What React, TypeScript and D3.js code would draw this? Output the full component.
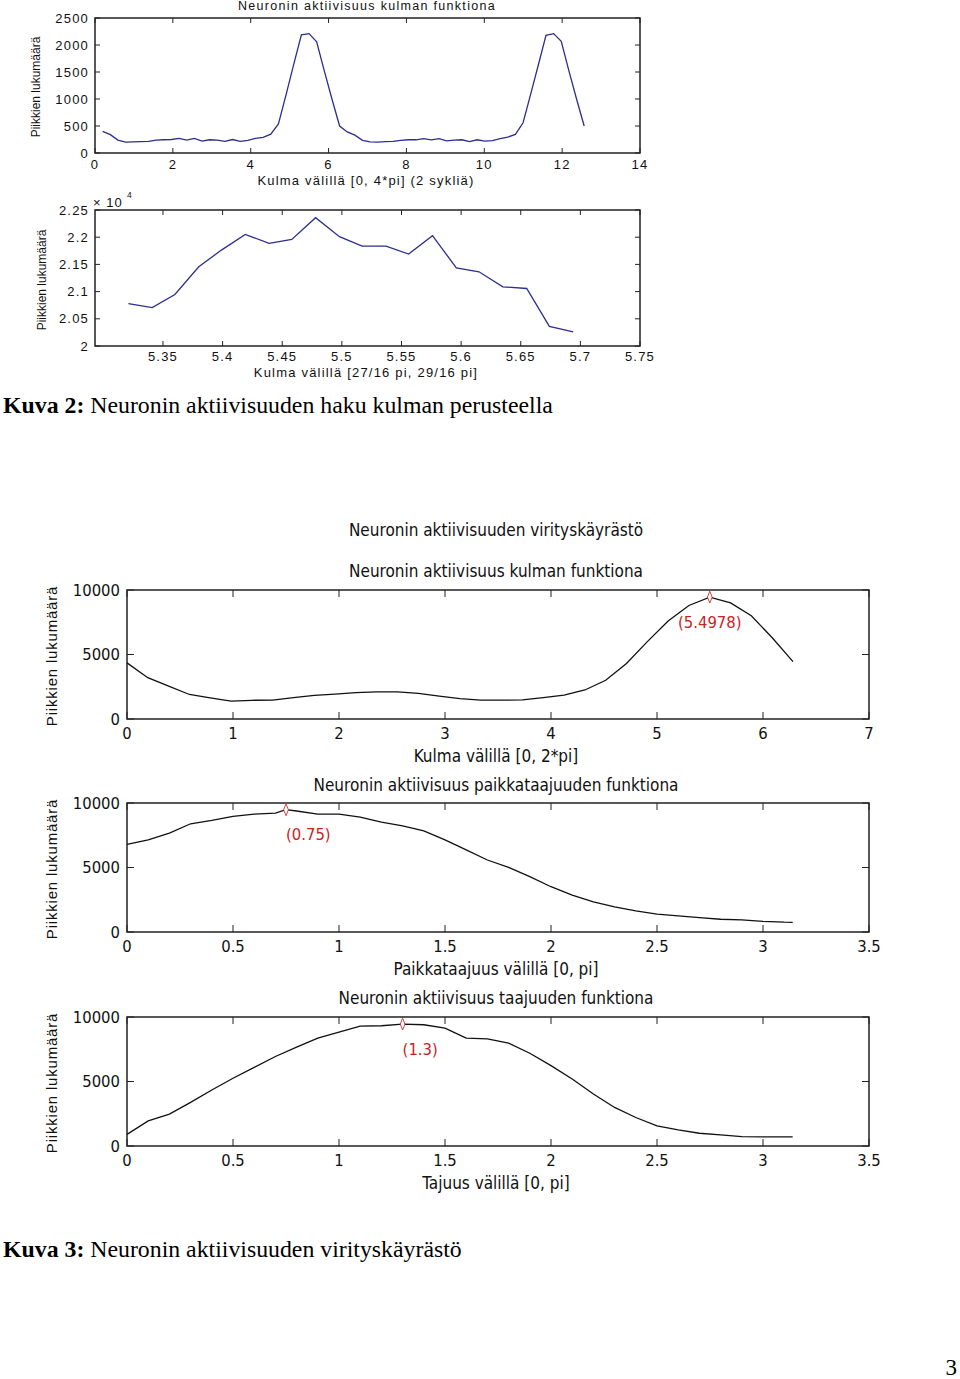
import { useEffect, useRef } from "react"
import * as d3 from "d3"

// Kuva 2, upper panel: activity vs angle over two cycles
const cycleAngles = [
  0.196, 0.393, 0.589, 0.785, 0.982, 1.178, 1.374, 1.571, 1.767, 1.963, 2.16, 2.356, 2.553, 2.749, 2.945, 3.142,
  3.338, 3.534, 3.731, 3.927, 4.123, 4.32, 4.516, 4.712, 4.909, 5.105, 5.301, 5.498, 5.694, 5.89, 6.087, 6.283,
  6.48, 6.676, 6.872, 7.069, 7.265, 7.461, 7.658, 7.854, 8.05, 8.247, 8.443, 8.639, 8.836, 9.032, 9.228, 9.425,
  9.621, 9.817, 10.014, 10.21, 10.407, 10.603, 10.799, 10.996, 11.192, 11.388, 11.585, 11.781, 11.977, 12.174,
  12.37, 12.566,
]
const cycleSpikes = [
  400, 340, 240, 200, 205, 210, 215, 240, 245, 250, 270, 240, 270, 220, 245, 240,
  215, 250, 215, 235, 270, 290, 350, 540, 1080, 1640, 2190, 2210, 2060, 1520, 1000, 500,
  390, 330, 235, 205, 200, 210, 215, 235, 245, 245, 265, 245, 265, 225, 240, 245,
  210, 245, 220, 230, 265, 295, 345, 560, 1090, 1630, 2180, 2210, 2070, 1520, 1000, 500,
]
const cycleXTicks = [0, 2, 4, 6, 8, 10, 12, 14]
const cycleYTicks = [0, 500, 1000, 1500, 2000, 2500]

// Kuva 2, lower panel: fine search around the peak
const fineAngles = [
  5.321, 5.341, 5.36, 5.38, 5.399, 5.419, 5.439, 5.458, 5.478, 5.498,
  5.517, 5.537, 5.556, 5.576, 5.596, 5.615, 5.635, 5.655, 5.674, 5.694,
]
const fineSpikes = [
  20780, 20706, 20946, 21456, 21763, 22052, 21886, 21960, 22359, 22009,
  21837, 21837, 21689, 22027, 21437, 21364, 21087, 21057, 20362, 20258,
]
const fineXTicks = [5.35, 5.4, 5.45, 5.5, 5.55, 5.6, 5.65, 5.7, 5.75]
const fineYTicks = [20000, 20500, 21000, 21500, 22000, 22500]

// Kuva 3: tuning curves
const angle = [
  0, 0.196, 0.393, 0.589, 0.785, 0.982, 1.178, 1.374, 1.571, 1.767, 1.963, 2.16, 2.356, 2.553, 2.749, 2.945,
  3.142, 3.338, 3.534, 3.731, 3.927, 4.123, 4.32, 4.516, 4.712, 4.909, 5.105, 5.301, 5.498, 5.694, 5.89, 6.087, 6.283,
]
const angleSpikes = [
  4350, 3200, 2550, 1900, 1640, 1380, 1450, 1470, 1660, 1830, 1930, 2050, 2100, 2110, 1980, 1780,
  1580, 1470, 1460, 1480, 1650, 1850, 2250, 3000, 4300, 6000, 7600, 8800, 9450, 9000, 8000, 6300, 4450,
]
const angleXTicks = [0, 1, 2, 3, 4, 5, 6, 7]

const spatialFreq = [
  0, 0.1, 0.2, 0.3, 0.4, 0.5, 0.6, 0.7, 0.75, 0.8, 0.9, 1.0, 1.1, 1.2, 1.3, 1.4, 1.5, 1.6, 1.7,
  1.8, 1.9, 2.0, 2.1, 2.2, 2.3, 2.4, 2.5, 2.6, 2.7, 2.8, 2.9, 3.0, 3.1, 3.14,
]
const spatialSpikes = [
  6800, 7140, 7660, 8390, 8650, 8960, 9140, 9220, 9480, 9380, 9140, 9140, 8910, 8520, 8230, 7840, 7140, 6360, 5580,
  5010, 4290, 3510, 2860, 2340, 1950, 1640, 1380, 1250, 1120, 990, 940, 830, 760, 750,
]

const temporalFreq = [
  0, 0.1, 0.2, 0.3, 0.4, 0.5, 0.6, 0.7, 0.8, 0.9, 1.0, 1.1, 1.2, 1.3, 1.4, 1.5, 1.6, 1.7,
  1.8, 1.9, 2.0, 2.1, 2.2, 2.3, 2.4, 2.5, 2.6, 2.7, 2.8, 2.9, 3.0, 3.1, 3.14,
]
const temporalSpikes = [
  900, 1950, 2470, 3380, 4340, 5250, 6100, 6940, 7660, 8360, 8830, 9300, 9320, 9450, 9400, 9140, 8360, 8310,
  7970, 7190, 6230, 5190, 4030, 2990, 2210, 1560, 1250, 990, 860, 730, 700, 700, 700,
]
const freqXTicks = [0, 0.5, 1, 1.5, 2, 2.5, 3, 3.5]
const countYTicks = [0, 5000, 10000]

const peakAngle = 5.4978
const peakSpatial = 0.75
const peakTemporal = 1.3

const SANS = "'Liberation Sans', Arial, sans-serif"
const NARROW = "'Liberation Sans Narrow', 'DejaVu Sans Condensed', 'Liberation Sans', sans-serif"
const SERIF = "'Liberation Serif', 'Times New Roman', serif"

interface PanelOpts {
  left: number
  right: number
  top: number
  bottom: number
  xDomain: [number, number]
  yDomain: [number, number]
  xTicks: number[]
  yTicks: number[]
  xs: number[]
  ys: number[]
  lineColor: string
  font: string
  fontSize: number
  yFormat: (d: number) => string
  xFormat: (d: number) => string
  xLabelGap: number
  yLabelGap: number
  tickLen: number
  letterSpacing: number
}

function drawPanel(svg: d3.Selection<SVGSVGElement, unknown, null, undefined>, o: PanelOpts) {
  const x = d3.scaleLinear().domain(o.xDomain).range([o.left, o.right])
  const y = d3.scaleLinear().domain(o.yDomain).range([o.bottom, o.top])
  const g = svg.append("g")

  // ticks inside on all four sides (matlab box)
  o.xTicks.forEach((t) => {
    const px = x(t)
    g.append("line").attr("x1", px).attr("x2", px).attr("y1", o.bottom).attr("y2", o.bottom - o.tickLen).attr("stroke", "#222")
    g.append("line").attr("x1", px).attr("x2", px).attr("y1", o.top).attr("y2", o.top + o.tickLen).attr("stroke", "#222")
    g.append("text")
      .attr("x", px)
      .attr("y", o.bottom + o.xLabelGap)
      .attr("text-anchor", "middle")
      .attr("dy", "0.35em")
      .attr("font-family", o.font)
      .attr("font-size", o.fontSize)
      .attr("letter-spacing", o.letterSpacing)
      .attr("fill", "#111")
      .text(o.xFormat(t))
  })
  o.yTicks.forEach((t) => {
    const py = y(t)
    g.append("line").attr("x1", o.left).attr("x2", o.left + o.tickLen).attr("y1", py).attr("y2", py).attr("stroke", "#222")
    g.append("line").attr("x1", o.right).attr("x2", o.right - o.tickLen).attr("y1", py).attr("y2", py).attr("stroke", "#222")
    g.append("text")
      .attr("x", o.left - o.yLabelGap)
      .attr("y", py)
      .attr("text-anchor", "end")
      .attr("dy", "0.35em")
      .attr("font-family", o.font)
      .attr("font-size", o.fontSize)
      .attr("letter-spacing", o.letterSpacing)
      .attr("fill", "#111")
      .text(o.yFormat(t))
  })

  g.append("rect")
    .attr("x", o.left)
    .attr("y", o.top)
    .attr("width", o.right - o.left)
    .attr("height", o.bottom - o.top)
    .attr("fill", "none")
    .attr("stroke", "#222")
    .attr("stroke-width", 1.5)

  const line = d3
    .line<number>()
    .x((d, i) => x(o.xs[i]))
    .y((d) => y(d))

  g.append("path")
    .datum(o.ys)
    .attr("fill", "none")
    .attr("stroke", o.lineColor)
    .attr("stroke-width", 1.3)
    .attr("d", line)

  return { x, y, g }
}

function addText(
  svg: d3.Selection<SVGSVGElement, unknown, null, undefined>,
  txt: string,
  px: number,
  py: number,
  font: string,
  size: number,
  opts: { anchor?: string; rotate?: boolean; fill?: string; spacing?: number } = {}
) {
  const t = svg
    .append("text")
    .attr("x", px)
    .attr("y", py)
    .attr("dy", "0.35em")
    .attr("text-anchor", opts.anchor || "middle")
    .attr("font-family", font)
    .attr("font-size", size)
    .attr("letter-spacing", opts.spacing || 0)
    .attr("fill", opts.fill || "#111")
    .text(txt)
  if (opts.rotate) t.attr("transform", `rotate(-90,${px},${py})`)
  return t
}

function markPeak(
  panel: { x: d3.ScaleLinear<number, number>; y: d3.ScaleLinear<number, number>; g: d3.Selection<SVGGElement, unknown, null, undefined> },
  xs: number[],
  ys: number[],
  peak: number,
  anchor: string
) {
  const idx = xs.findIndex((v) => Math.abs(v - peak) < 0.01)
  const px = panel.x(xs[idx])
  const py = panel.y(ys[idx])
  panel.g
    .append("path")
    .attr("d", d3.symbol(d3.symbolDiamond, 40)())
    .attr("transform", `translate(${px},${py}) scale(0.7,1)`)
    .attr("fill", "white")
    .attr("stroke", "#cc2222")
    .attr("stroke-width", 1)
  panel.g
    .append("text")
    .attr("x", px)
    .attr("y", py + 25)
    .attr("dy", "0.35em")
    .attr("text-anchor", anchor)
    .attr("font-family", NARROW)
    .attr("font-size", 16.5)
    .attr("fill", "#cc2222")
    .text(`(${peak})`)
}

export default function App() {
  const svgRef = useRef<SVGSVGElement>(null)

  useEffect(() => {
    if (!svgRef.current) return
    const svg = d3.select(svgRef.current)
    svg.selectAll("*").remove()

    const topBase = {
      left: 95,
      right: 640,
      lineColor: "#2e2e8e",
      font: SANS,
      fontSize: 13,
      xLabelGap: 11,
      yLabelGap: 6,
      tickLen: 5,
      letterSpacing: 1.2,
    }

    // --- Kuva 2 ---
    drawPanel(svg, {
      ...topBase,
      top: 18,
      bottom: 153,
      xDomain: [0, 14],
      yDomain: [0, 2500],
      xTicks: cycleXTicks,
      yTicks: cycleYTicks,
      xs: cycleAngles,
      ys: cycleSpikes,
      yFormat: (d) => String(d),
      xFormat: (d) => String(d),
    })
    addText(svg, "Neuronin aktiivisuus kulman funktiona", 367, 6, SANS, 12.5, { spacing: 1.3 })
    addText(svg, "Kulma välillä [0, 4*pi] (2 sykliä)", 366, 180, SANS, 13, { spacing: 1.2 })
    addText(svg, "Piikkien lukumäärä", 36, 87, SANS, 12, { rotate: true })

    drawPanel(svg, {
      ...topBase,
      top: 210,
      bottom: 346,
      xDomain: [5.293, 5.75],
      yDomain: [20000, 22500],
      xTicks: fineXTicks,
      yTicks: fineYTicks,
      xs: fineAngles,
      ys: fineSpikes,
      yFormat: (d) => String(+(d / 10000).toFixed(2)),
      xFormat: (d) => String(d),
      xLabelGap: 10,
    })
    addText(svg, "× 10", 93, 202, SANS, 13, { anchor: "start", spacing: 1 })
    addText(svg, "4", 127, 195, SANS, 8.5, { anchor: "start" })
    addText(svg, "Kulma välillä [27/16 pi, 29/16 pi]", 366, 372, SANS, 13, { spacing: 1.2 })
    addText(svg, "Piikkien lukumäärä", 42, 280, SANS, 12, { rotate: true })

    const caption2 = svg
      .append("text")
      .attr("x", 3)
      .attr("y", 413)
      .attr("font-family", SERIF)
      .attr("font-size", 23.8)
      .attr("fill", "#000")
    caption2.append("tspan").attr("font-weight", "bold").text("Kuva 2:")
    caption2.append("tspan").text(" Neuronin aktiivisuuden haku kulman perusteella")

    // --- Kuva 3 ---
    const botBase = {
      left: 127,
      right: 869,
      lineColor: "#111",
      font: NARROW,
      fontSize: 16.5,
      xLabelGap: 14,
      yLabelGap: 7,
      tickLen: 7,
      letterSpacing: 0,
      yDomain: [0, 10000] as [number, number],
      yTicks: countYTicks,
      yFormat: (d: number) => String(d),
      xFormat: (d: number) => String(d),
    }

    addText(svg, "Neuronin aktiivisuuden virityskäyrästö", 496, 530, NARROW, 17)

    const pA = drawPanel(svg, {
      ...botBase,
      top: 590,
      bottom: 719,
      xDomain: [0, 7],
      xTicks: angleXTicks,
      xs: angle,
      ys: angleSpikes,
    })
    markPeak(pA, angle, angleSpikes, peakAngle, "middle")
    addText(svg, "Neuronin aktiivisuus kulman funktiona", 496, 571, NARROW, 17)
    addText(svg, "Kulma välillä [0, 2*pi]", 496, 756, NARROW, 17)
    addText(svg, "Piikkien lukumäärä", 52, 656, SANS, 15, { rotate: true, spacing: 0.8 })

    const pB = drawPanel(svg, {
      ...botBase,
      top: 803,
      bottom: 932,
      xDomain: [0, 3.5],
      xTicks: freqXTicks,
      xs: spatialFreq,
      ys: spatialSpikes,
    })
    markPeak(pB, spatialFreq, spatialSpikes, peakSpatial, "start")
    addText(svg, "Neuronin aktiivisuus paikkataajuuden funktiona", 496, 785, NARROW, 17)
    addText(svg, "Paikkataajuus välillä [0, pi]", 496, 969, NARROW, 17)
    addText(svg, "Piikkien lukumäärä", 52, 869, SANS, 15, { rotate: true, spacing: 0.8 })

    const pC = drawPanel(svg, {
      ...botBase,
      top: 1017,
      bottom: 1146,
      xDomain: [0, 3.5],
      xTicks: freqXTicks,
      xs: temporalFreq,
      ys: temporalSpikes,
    })
    markPeak(pC, temporalFreq, temporalSpikes, peakTemporal, "start")
    addText(svg, "Neuronin aktiivisuus taajuuden funktiona", 496, 998, NARROW, 17)
    addText(svg, "Tajuus välillä [0, pi]", 496, 1183, NARROW, 17)
    addText(svg, "Piikkien lukumäärä", 52, 1083, SANS, 15, { rotate: true, spacing: 0.8 })

    const caption3 = svg
      .append("text")
      .attr("x", 3)
      .attr("y", 1257)
      .attr("font-family", SERIF)
      .attr("font-size", 23.8)
      .attr("fill", "#000")
    caption3.append("tspan").attr("font-weight", "bold").text("Kuva 3:")
    caption3.append("tspan").text(" Neuronin aktiivisuuden virityskäyrästö")

    svg
      .append("text")
      .attr("x", 957)
      .attr("y", 1375)
      .attr("text-anchor", "end")
      .attr("font-family", SERIF)
      .attr("font-size", 23)
      .attr("fill", "#000")
      .text("3")
  }, [])

  return (
    <div style={{ position: "absolute", left: 0, top: 0, width: 960, height: 1379, background: "#fff" }}>
      <svg ref={svgRef} width={960} height={1379} style={{ display: "block" }}></svg>
    </div>
  )
}
